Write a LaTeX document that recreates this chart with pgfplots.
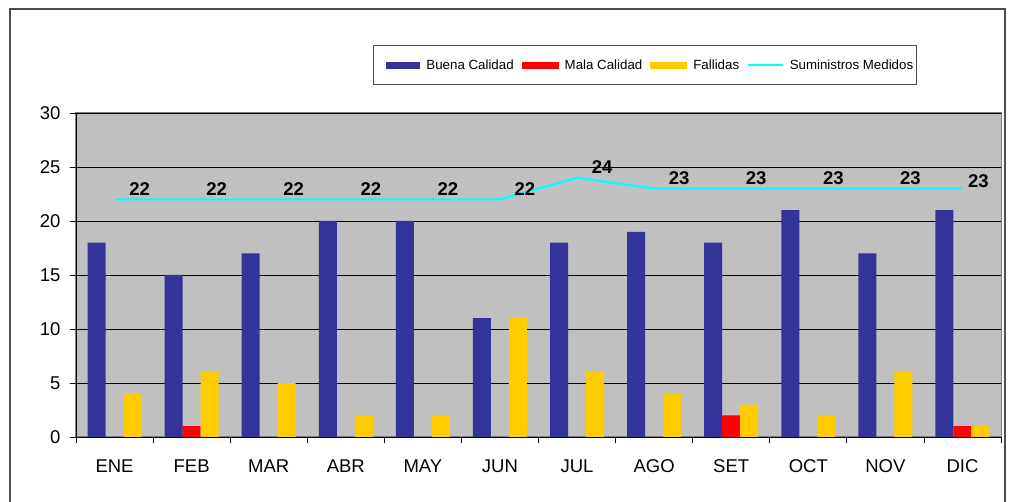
\documentclass[border=0pt]{standalone}
\usepackage{pgfplots}
\pgfplotsset{compat=1.18}
\usepackage{fontspec}
\setmainfont{Liberation Sans}
\definecolor{cblue}{HTML}{333399}
\definecolor{cred}{HTML}{FF0000}
\definecolor{cyell}{HTML}{FFCC00}
\definecolor{ccyan}{HTML}{00FFFF}
\definecolor{cgray}{HTML}{C0C0C0}
\definecolor{cborder}{HTML}{808080}
\definecolor{cframe}{HTML}{4D4D4D}
\begin{document}
\begin{tikzpicture}
\draw[cframe, line width=1.5pt] (10pt,-5pt) -- (10pt,493pt) -- (1005pt,493pt) -- (1005pt,-5pt);
\begin{axis}[
  at={(76pt,65pt)}, anchor=south west,
  scale only axis, width=925pt, height=324pt,
  xmin=-0.5, xmax=11.5, ymin=0, ymax=30,
  ytick={0,5,...,30},
  ymajorgrids, major grid style={black, line width=0.8pt},
  xtick={-0.5,0.5,...,11.5}, xticklabels={},
  extra x ticks={0,1,...,11},
  extra x tick labels={ENE,FEB,MAR,ABR,MAY,JUN,JUL,AGO,SET,OCT,NOV,DIC},
  extra x tick style={major tick length=0pt, xticklabel style={yshift=-19pt}},
  axis x line*=bottom, axis y line*=left,
  axis line style={black, line width=0.8pt, -},
  tick style={black, line width=0.8pt},
  tick align=outside, major tick length=6pt,
  axis background/.style={fill=cgray, draw=cborder, line width=1pt},
  /pgf/number format/assume math mode=true,
  tick label style={font=\fontsize{18.5}{20}\selectfont},
  yticklabel style={xshift=-6pt},
  clip=false,
  legend columns=4,
  legend style={at={(0.6155,1.148)}, anchor=center, draw=cframe, line width=1pt,
    fill=white, font=\fontsize{13.3}{15}\selectfont,
    inner xsep=1.5pt, inner ysep=11.5pt,
    /tikz/every even column/.append style={column sep=6pt}},
]
\addplot[ybar, bar width=18pt, bar shift=-18pt, fill=cblue, draw=none, forget plot]
  coordinates {(0,18) (1,15) (2,17) (3,20) (4,20) (5,11) (6,18) (7,19) (8,18) (9,21) (10,17) (11,21)};
\addplot[ybar, bar width=18pt, bar shift=0pt, fill=cred, draw=none, forget plot]
  coordinates {(1,1) (8,2) (11,1)};
\addplot[ybar, bar width=18pt, bar shift=18pt, fill=cyell, draw=none, forget plot]
  coordinates {(0,4) (1,6) (2,5) (3,2) (4,2) (5,11) (6,6) (7,4) (8,3) (9,2) (10,6) (11,1)};
\addplot[sharp plot, color=ccyan, line width=2.2pt, mark=none, forget plot]
  coordinates {(0,22) (1,22) (2,22) (3,22) (4,22) (5,22) (6,24) (7,23) (8,23) (9,23) (10,23) (11,23)};
\addplot[only marks, mark=none, draw=none, forget plot,
  nodes near coords,
  nodes near coords style={font=\bfseries\fontsize{18.5}{20}\selectfont, anchor=center,
    xshift=25pt, yshift=10.5pt, text=black}]
  coordinates {(0,22) (1,22) (2,22) (3,22) (4,22) (5,22) (6,24) (7,23) (8,23) (9,23) (10,23)};
\addplot[only marks, mark=none, draw=none, forget plot,
  nodes near coords,
  nodes near coords style={font=\bfseries\fontsize{18.5}{20}\selectfont, anchor=center,
    xshift=16pt, yshift=7pt, text=black}]
  coordinates {(11,23)};
\addlegendimage{legend image code/.code={\path (0pt,0pt); \fill[cblue] (11pt,-3pt) rectangle (44pt,3pt); \path (48pt,0pt);}}
\addlegendentry{Buena Calidad}
\addlegendimage{legend image code/.code={\fill[cred] (0pt,-3pt) rectangle (36pt,3pt); \path (40pt,0pt);}}
\addlegendentry{Mala Calidad}
\addlegendimage{legend image code/.code={\fill[cyell] (0pt,-3pt) rectangle (36pt,3pt); \path (40pt,0pt);}}
\addlegendentry{Fallidas}
\addlegendimage{legend image code/.code={\draw[ccyan, line width=2.2pt] (0pt,0pt) -- (35pt,0pt); \path (39pt,0pt);}}
\addlegendentry{Suministros Medidos}
\end{axis}
\pgfresetboundingbox
\path (0pt,0pt) rectangle (1015pt,502pt);
\end{tikzpicture}
\end{document}
